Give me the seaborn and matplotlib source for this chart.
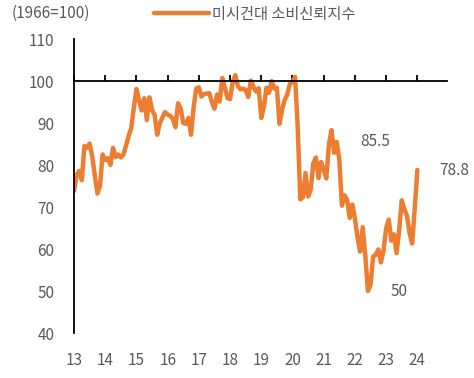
import pandas as pd
import matplotlib.pyplot as plt
import seaborn as sns

# University of Michigan consumer sentiment, monthly, Jan 2013 - Jan 2024
y2013 = [73.8, 77.6, 78.6, 76.4, 84.5, 84.1, 85.1, 82.1, 77.5, 73.2, 75.1, 82.5]
y2014 = [81.2, 81.6, 80.0, 84.1, 81.9, 82.5, 81.8, 82.5, 84.6, 86.9, 88.8, 93.6]
y2015 = [98.1, 95.4, 93.0, 95.9, 90.7, 96.1, 93.1, 91.9, 87.2, 90.0, 91.3, 92.6]
y2016 = [92.0, 91.7, 91.0, 89.0, 94.7, 93.5, 90.0, 89.8, 91.2, 87.2, 93.8, 98.2]
y2017 = [98.5, 96.3, 96.9, 97.0, 97.1, 95.0, 93.4, 96.8, 95.1, 100.7, 98.5, 95.9]
y2018 = [95.7, 99.7, 101.4, 98.8, 98.0, 98.2, 97.9, 96.2, 100.1, 98.6, 97.5, 98.3]
y2019 = [91.2, 93.8, 98.4, 97.2, 100.0, 98.2, 98.4, 89.8, 93.2, 95.5, 96.8, 99.3]
y2020 = [99.8, 101.0, 89.1, 71.8, 72.3, 78.1, 72.5, 74.1, 80.4, 81.8, 76.9, 80.7]
y2021 = [79.0, 76.8, 84.9, 88.3, 82.9, 85.5, 81.2, 70.3, 72.8, 71.7, 67.4, 70.6]
y2022 = [67.2, 62.8, 59.4, 65.2, 58.4, 50.0, 51.5, 58.2, 58.6, 59.9, 56.8, 59.7]
y2023 = [64.9, 67.0, 62.0, 63.5, 59.0, 64.4, 71.6, 69.5, 67.9, 63.8, 61.3, 69.7]
y2024 = [78.8]

values = y2013 + y2014 + y2015 + y2016 + y2017 + y2018 + y2019 + y2020 + y2021 + y2022 + y2023 + y2024
dates = pd.date_range("2013-01-01", periods=len(values), freq="MS")
df = pd.DataFrame({"t": dates.year - 2000 + (dates.month - 1) / 12.0, "v": values})

series_name = "미시건대 소비신뢰지수"
unit_label = "(1966=100)"
year_ticks = list(range(13, 25))
notes = [(22.65, 85.5, "85.5"), (23.4, 50.0, "50"), (25.17, 78.8, "78.8")]

sns.set_style("white")
plt.rcParams["font.family"] = ["Noto Sans CJK KR", "DejaVu Sans"]
plt.rcParams["font.weight"] = "light"
grey = "#595959"
orange = "#ED7D31"

fig = plt.figure(figsize=(4.74, 3.78), dpi=100)
ax = fig.add_axes([74/474, 1 - 333/378, (447 - 74)/474, (333 - 39)/378])

sns.lineplot(data=df, x="t", y="v", ax=ax, color=orange, linewidth=3.2, label=series_name, legend=False)

ax.set_xlim(13, 24.95)
ax.set_ylim(40, 110)
ax.set_yticks(range(40, 111, 10))
ax.set_xticks(year_ticks)
ax.set_xlabel(None)
ax.set_ylabel(None)

# spines: left axis and a baseline at 100 with tick marks
ax.spines["right"].set_visible(False)
ax.spines["bottom"].set_visible(False)
ax.spines["top"].set_position(("data", 100))
for s in ["left", "top"]:
    ax.spines[s].set_color("black")
    ax.spines[s].set_linewidth(1.3)
ax.tick_params(axis="x", which="both", bottom=False, top=True, labelbottom=True, labeltop=False,
               direction="out", length=4, width=1.3, color="black", labelsize=11, labelcolor=grey, pad=10)
ax.tick_params(axis="y", direction="in", length=4, width=1.3, color="black", labelsize=11, labelcolor=grey, pad=14)

for x, y, txt in notes:
    ax.text(x, y, txt, ha="center", va="center", fontsize=11, color=grey, clip_on=False)

fig.text(12/474, 1 - 13/378, unit_label, ha="left", va="center", fontsize=11, color=grey)
h, l = ax.get_legend_handles_labels()
fig.legend(h, l, loc="center", bbox_to_anchor=(255/474, 1 - 14/378), frameon=False, fontsize=11,
           handlelength=3.6, handletextpad=0.2, labelcolor=grey)

fig.savefig("out.png", dpi=100)
plt.close()
